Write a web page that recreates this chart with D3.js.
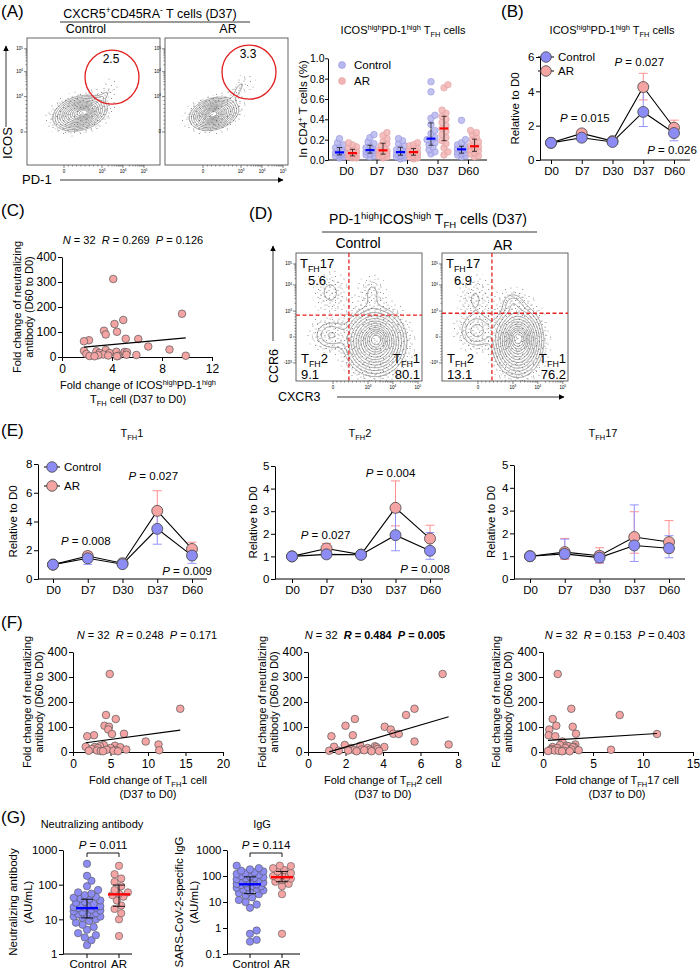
<!DOCTYPE html>
<html>
<head>
<meta charset="utf-8">
<script src="https://cdn.jsdelivr.net/npm/d3@7"></script>
<style>
  body { margin: 0; background: #fff; }
  svg { display: block; font-family: "Liberation Sans", Arial, Helvetica, sans-serif; }
</style>
</head>
<body>
<script>
// ---------- data ----------
const days = ['D0', 'D7', 'D30', 'D37', 'D60'];

// (A) % ICOShigh PD-1high TFH in CD4+ T cells, one array per day
const tfhPctControl = [
  [0.21, 0.17, 0.15, 0.13, 0.12, 0.10, 0.09, 0.08, 0.07, 0.07, 0.06, 0.05, 0.05, 0.04, 0.03, 0.02],
  [0.25, 0.22, 0.18, 0.16, 0.14, 0.12, 0.11, 0.10, 0.095, 0.09, 0.08, 0.07, 0.06, 0.05, 0.04, 0.03],
  [0.21, 0.19, 0.16, 0.14, 0.12, 0.10, 0.09, 0.08, 0.075, 0.07, 0.06, 0.05, 0.04, 0.03, 0.02, 0.01],
  [0.77, 0.67, 0.44, 0.41, 0.35, 0.29, 0.26, 0.22, 0.20, 0.19, 0.17, 0.15, 0.13, 0.10, 0.08, 0.06],
  [0.39, 0.20, 0.17, 0.15, 0.13, 0.12, 0.11, 0.11, 0.10, 0.09, 0.08, 0.07, 0.06, 0.05, 0.04, 0.03]
];
const tfhPctAR = [
  [0.17, 0.15, 0.13, 0.12, 0.10, 0.09, 0.08, 0.07, 0.065, 0.06, 0.05, 0.04, 0.04, 0.03, 0.02, 0.02],
  [0.27, 0.24, 0.21, 0.18, 0.16, 0.14, 0.12, 0.10, 0.09, 0.085, 0.07, 0.06, 0.05, 0.04, 0.03, 0.02],
  [0.17, 0.15, 0.14, 0.12, 0.11, 0.10, 0.09, 0.08, 0.075, 0.07, 0.06, 0.05, 0.04, 0.03, 0.02, 0.01],
  [0.74, 0.71, 0.49, 0.46, 0.43, 0.40, 0.37, 0.34, 0.31, 0.28, 0.25, 0.22, 0.19, 0.16, 0.12, 0.08, 0.05],
  [0.29, 0.27, 0.25, 0.22, 0.20, 0.18, 0.16, 0.14, 0.13, 0.12, 0.10, 0.09, 0.07, 0.06, 0.04, 0.03]
];

// (B) ICOShigh PD-1high TFH relative to D0 (value, [low, high])
const icosRelControl = [1.0, 1.3, 1.05, 2.8, 1.57];
const icosErrControl = [[1, 1], [1.12, 1.48], [0.98, 1.12], [1.95, 4.45], [1.12, 1.75]];
const icosRelAR = [1.0, 1.55, 1.1, 4.25, 1.88];
const icosErrAR = [[1, 1], [1.35, 1.75], [1.0, 1.2], [3.5, 5.05], [1.5, 2.32]];

// (E) TFH subsets relative to D0
const tfh1Control = [1.0, 1.44, 1.03, 3.49, 1.63];
const tfh1ErrControl = [[1, 1], [1.02, 1.7], [0.97, 1.12], [2.42, 4.55], [1.09, 2.05]];
const tfh1AR = [1.0, 1.6, 1.1, 4.74, 2.09];
const tfh1ErrAR = [[1, 1], [1.35, 1.88], [1.0, 1.22], [3.3, 6.14], [1.6, 2.56]];
const tfh2Control = [1.0, 1.09, 1.07, 1.94, 1.25];
const tfh2ErrControl = [[1, 1], [0.98, 1.22], [0.98, 1.15], [1.25, 2.94], [0.87, 2.06]];
const tfh2AR = [1.0, 1.35, 1.08, 3.15, 1.79];
const tfh2ErrAR = [[1, 1], [1.15, 1.57], [1.0, 1.17], [2.35, 4.34], [1.2, 2.38]];
const tfh17Control = [1.0, 1.1, 0.94, 1.47, 1.35];
const tfh17ErrControl = [[1, 1], [0.9, 1.75], [0.72, 1.2], [0.77, 3.25], [0.93, 1.9]];
const tfh17AR = [1.0, 1.18, 1.02, 1.84, 1.62];
const tfh17ErrAR = [[1, 1], [0.86, 1.78], [0.69, 1.37], [1.13, 2.95], [1.15, 2.56]];

// (C)/(F) fold change of neutralizing antibody (D60 to D0), 32 subjects
const neutFold = [312, 173, 148, 132, 105, 101, 90, 73, 72, 67, 63, 42, 30, 28, 25, 23,
                  21, 20, 19, 16, 16, 12, 10, 9, 8, 7, 6, 5, 5, 4, 3, 3];
const icosFold = [4.1, 9.6, 4.9, 4.2, 3.36, 4.4, 3.5, 5.1, 6.1, 2.16, 1.76, 6.9, 8.6, 3.5, 1.76, 2.75,
                  4.35, 5.0, 5.2, 3.0, 3.8, 1.95, 3.3, 5.15, 5.95, 2.9, 3.7, 4.5, 9.9, 2.2, 2.6, 4.4];
const tfh1Fold = [4.9, 14.3, 4.4, 5.7, 4.2, 4.8, 4.7, 6.8, 5.2, 2.8, 1.9, 9.7, 11.4, 4.1, 5.6, 3.6,
                  1.7, 2.9, 6.3, 5.0, 3.3, 2.5, 7.1, 4.5, 5.7, 11.5, 3.2, 2.1, 5.4, 3.7, 6.0, 4.0];
const tfh2Fold = [7.18, 5.68, 5.23, 2.5, 2.0, 4.09, 4.41, 4.55, 4.84, 2.39, 1.25, 5.68, 7.5, 1.96, 2.79, 3.57,
                  1.39, 4.07, 3.66, 3.18, 2.29, 3.71, 2.86, 3.3, 2.46, 3.0, 2.14, 1.13, 1.64, 3.79, 2.59, 3.39];
const tfh17Fold = [1.47, 2.83, 7.67, 0.97, 1.33, 2.97, 0.63, 3.3, 11.4, 0.57, 1.23, 1.93, 3.23, 1.7, 2.37, 2.57,
                   3.1, 0.97, 2.97, 2.23, 1.43, 0.83, 2.83, 6.8, 0.73, 3.57, 1.17, 1.57, 2.07, 0.5, 1.9, 2.67];

// (G) antibody titres, AU/mL
const neutControl = [400, 180, 130, 90, 70, 60, 55, 50, 45, 42, 40, 38, 35, 32, 30, 28, 26, 25, 24, 22, 22, 21,
                     22.5, 19, 18, 17, 16, 15, 14, 14, 13, 12, 12, 11, 10, 9, 8, 7, 6, 5, 4, 3.5, 3, 2.5, 1.8];
const neutAR = [350, 200, 150, 120, 90, 70, 60, 55, 50, 45, 35, 25, 20, 15, 10, 3.3];
const iggControl = [250, 200, 180, 160, 150, 140, 130, 120, 110, 100, 95, 90, 85, 80, 75, 70, 65, 60, 55, 52, 50,
                    48, 45, 42, 40, 38, 35, 32, 30, 28, 25, 22, 20, 18, 15, 12, 10, 8, 6, 0.8, 0.6, 0.35, 0.3];
const iggAR = [250, 240, 200, 170, 150, 130, 110, 100, 90, 85, 80, 70, 60, 50, 40, 20, 0.6];

// flow cytometry populations (display units of the biexponential axes)
const popsA_Control = [
  { cx: 0.8, cy: 0.9, sx: 0.55, sy: 0.32, a: 15, w: 1 },
  { cx: 1.05, cy: 0.95, sx: 0.25, sy: 0.15, a: 15, w: 0.5 },
  { cx: 1.95, cy: 1.7, sx: 0.35, sy: 0.12, a: 40, w: 0.05 },
  { cx: 2.4, cy: 2.3, sx: 0.45, sy: 0.35, a: 0, w: 0.008 },
  { cx: 0.9, cy: 1.0, sx: 0.95, sy: 0.65, a: 15, w: 0.008 }
];
const popsA_AR = [
  { cx: 0.55, cy: 0.87, sx: 0.5, sy: 0.3, a: 15, w: 1 },
  { cx: 0.5, cy: 0.85, sx: 0.25, sy: 0.15, a: 15, w: 0.5 },
  { cx: 1.75, cy: 2.0, sx: 0.35, sy: 0.12, a: 60, w: 0.06 },
  { cx: 2.2, cy: 2.4, sx: 0.45, sy: 0.35, a: 0, w: 0.01 },
  { cx: 0.7, cy: 1.0, sx: 0.95, sy: 0.65, a: 15, w: 0.008 }
];
const popsD_Control = [
  { cx: 1.98, cy: -0.27, sx: 0.6, sy: 0.76, a: 0, w: 1 },
  { cx: 2.05, cy: -0.1, sx: 0.28, sy: 0.35, a: 0, w: 0.5 },
  { cx: 1.85, cy: 2.4, sx: 0.3, sy: 0.55, a: 0, w: 0.05 },
  { cx: -0.1, cy: 0.1, sx: 0.45, sy: 0.45, a: 0, w: 0.12 },
  { cx: -0.13, cy: 2.45, sx: 0.38, sy: 0.55, a: 0, w: 0.055 },
  { cx: 1.0, cy: 1.5, sx: 1.2, sy: 1.2, a: 0, w: 0.006 }
];
const popsD_AR = [
  { cx: 1.88, cy: -0.22, sx: 0.49, sy: 0.8, a: 0, w: 1 },
  { cx: 1.9, cy: -0.05, sx: 0.25, sy: 0.35, a: 0, w: 0.5 },
  { cx: 1.65, cy: 1.85, sx: 0.3, sy: 0.35, a: 0, w: 0.08 },
  { cx: -0.05, cy: 0.33, sx: 0.45, sy: 0.5, a: 0, w: 0.14 },
  { cx: -0.14, cy: 2.1, sx: 0.4, sy: 0.7, a: 0, w: 0.045 },
  { cx: 0.9, cy: 1.4, sx: 1.2, sy: 1.2, a: 0, w: 0.006 }
];
const speckLevels = [0.004, 0.012];
const flowLevels = [0.03, 0.05, 0.08, 0.12, 0.17, 0.23, 0.3, 0.38, 0.47, 0.56, 0.66, 0.77, 0.88];

// ---------- style ----------
const ctlCol = '#8c8cf4', arCol = '#f5a4a4';
const ctlDot = '#b7b7ef', arDot = '#f3b4b4';
const ctlErr = '#9494ff', arErr = '#ff8f8f';

const svg = d3.select('body').append('svg').attr('width', 700).attr('height', 972);
const defs = svg.append('defs');
defs.append('marker').attr('id', 'arrow').attr('viewBox', '0 0 10 10')
  .attr('refX', 9).attr('refY', 5).attr('markerWidth', 7).attr('markerHeight', 7)
  .attr('orient', 'auto').append('path').attr('d', 'M0,0L10,5L0,10z').attr('fill', '#000');
// speckle texture for sparse events outside the contours
[[17, 13, [[1, 2], [7, 1], [12.5, 3.5], [4, 6], [9.5, 7.5], [15, 9], [2, 10.5], [6.5, 12], [12, 11.5]]],
 [9, 8, [[1, 1], [5, 2.5], [8, 5], [2.5, 4.5], [6, 7]]]].forEach(([w, h, pts], k) => {
  const p = defs.append('pattern').attr('id', 'speck' + (k + 1)).attr('width', w).attr('height', h)
    .attr('patternUnits', 'userSpaceOnUse');
  pts.forEach(([cx, cy]) => p.append('circle').attr('cx', cx).attr('cy', cy).attr('r', 0.5).attr('fill', '#6f6f6f'));
});

// text with sup/sub/italic/bold runs
function T(g, x, y, parts, o = {}) {
  const fs = o.size || 11;
  const t = g.append('text').attr('font-size', fs).attr('fill', '#000')
    .attr('text-anchor', o.anchor || 'start');
  if (o.rotate) t.attr('transform', `translate(${x},${y}) rotate(-90)`);
  else t.attr('x', x).attr('y', y);
  if (o.weight) t.attr('font-weight', o.weight);
  let shift = 0;
  parts.forEach(p => {
    if (typeof p === 'string') p = { t: p };
    const target = p.s === 'sup' ? -0.38 * fs : p.s === 'sub' ? 0.28 * fs : 0;
    const ts = t.append('tspan').attr('dy', target - shift).text(p.t);
    shift = target;
    if (p.s) ts.attr('font-size', fs * 0.68);
    if (p.i) ts.attr('font-style', 'italic');
    if (p.b) ts.attr('font-weight', 'bold');
  });
  return t;
}
const P = v => [{ t: 'P', i: true }, ' = ' + v];
const TFH = suffix => ['T', { t: 'FH', s: 'sub' }, suffix];

function styleAxis(sel, fs) {
  sel.attr('font-family', null).attr('font-size', null);
  sel.select('.domain').attr('stroke', '#000').attr('stroke-width', 1);
  sel.selectAll('.tick line').attr('stroke', '#000').attr('stroke-width', 1);
  sel.selectAll('.tick text').attr('fill', '#000').attr('font-size', fs || 11.5);
}

function swarm(values, y, cx, r, maxW, gap) {
  const pts = values.map(v => ({ v, y: y(v) })).sort((a, b) => b.y - a.y);
  const placed = [];
  const step = r * 0.6;
  const kMax = 2 * Math.ceil(maxW / step);
  pts.forEach(p => {
    let best = 0, bestD = -1;
    for (let k = 0; k <= kMax; k++) {
      const dx = (k % 2 ? 1 : -1) * Math.ceil(k / 2) * step;
      if (Math.abs(dx) > maxW) continue;
      const d = placed.length ? d3.min(placed, q => Math.hypot(q.dx - dx, q.y - p.y)) : Infinity;
      if (d >= gap) { best = dx; break; }
      if (d > bestD) { bestD = d; best = dx; }
    }
    p.dx = best;
    placed.push(p);
  });
  return pts.map(p => ({ v: p.v, x: cx + p.dx, y: p.y }));
}

// panel letters
[['(A)', 1, 17], ['(B)', 501, 17], ['(C)', 1, 216], ['(D)', 249, 219],
 ['(E)', 1, 436], ['(F)', 1, 628], ['(G)', 1, 823]].forEach(([t, x, y]) => T(svg, x, y, [t], { size: 17 }));

// ---------- flow plots ----------
function density(pops, ux, uy) {
  let s = 0;
  pops.forEach(p => {
    const a = p.a * Math.PI / 180;
    const dx = ux - p.cx, dy = uy - p.cy;
    const xr = dx * Math.cos(a) + dy * Math.sin(a);
    const yr = -dx * Math.sin(a) + dy * Math.cos(a);
    s += p.w * Math.exp(-0.5 * (xr * xr / (p.sx * p.sx) + yr * yr / (p.sy * p.sy)));
  });
  return s;
}
function flowMinors(ticks) {
  const out = [];
  for (let i = 0; i < ticks.length - 1; i++) {
    const a = ticks[i], b = ticks[i + 1];
    const lin = a.l[0] === '0' || b.l[0] === '0';
    for (let k = 2; k <= 9; k++) out.push(a.u + (b.u - a.u) * (lin ? (k - 1) / 9 : Math.log10(k)));
  }
  return out;
}
let clipN = 0;
function flowPlot(o) {
  const g = svg.append('g');
  const [bx0, by0, bx1, by1] = o.box;
  const x = d3.scaleLinear().domain(o.xDom).range([bx0, bx1]);
  const y = d3.scaleLinear().domain(o.yDom).range([by1, by0]);
  const n = Math.round((bx1 - bx0) / 1.1), m = Math.round((by1 - by0) / 1.1);
  const cw = (bx1 - bx0) / n, ch = (by1 - by0) / m;
  const vals = new Array(n * m);
  for (let j = 0; j < m; j++)
    for (let i = 0; i < n; i++)
      vals[j * n + i] = density(o.pops, x.invert(bx0 + (i + 0.5) * cw), y.invert(by0 + (j + 0.5) * ch));
  const mx = d3.max(vals);
  const path = d3.geoPath(d3.geoTransform({
    point(px, py) { this.stream.point(bx0 + px * cw, by0 + py * ch); }
  }));
  const id = 'fclip' + (clipN++);
  defs.append('clipPath').attr('id', id).append('rect')
    .attr('x', bx0).attr('y', by0).attr('width', bx1 - bx0).attr('height', by1 - by0);
  const cg = g.append('g').attr('clip-path', `url(#${id})`);
  d3.contours().size([n, m]).thresholds(speckLevels.map(l => l * mx))(vals).forEach((c, k) => {
    cg.append('path').attr('d', path(c)).attr('fill', `url(#speck${k + 1})`).attr('stroke', 'none');
  });
  d3.contours().size([n, m]).thresholds(flowLevels.map(l => l * mx))(vals).forEach(c => {
    cg.append('path').attr('d', path(c)).attr('fill', 'none').attr('stroke', '#5e5e5e').attr('stroke-width', 0.55);
  });
  g.append('rect').attr('x', bx0).attr('y', by0).attr('width', bx1 - bx0).attr('height', by1 - by0)
    .attr('fill', 'none').attr('stroke', '#555').attr('stroke-width', 0.9);
  // ticks
  const sup = l => l.includes('10') ? [l.replace(/\d$/, ''), { t: l.slice(-1), s: 'sup' }] : [l];
  o.yTicks.forEach(t => {
    g.append('line').attr('x1', bx0 - 3).attr('x2', bx0).attr('y1', y(t.u)).attr('y2', y(t.u)).attr('stroke', '#333').attr('stroke-width', 0.6);
    T(g, bx0 - 4, y(t.u) + 1.5, sup(t.l), { size: 4.5, anchor: 'end' });
  });
  flowMinors(o.yTicks).forEach(u => g.append('line').attr('x1', bx0 - 1.6).attr('x2', bx0)
    .attr('y1', y(u)).attr('y2', y(u)).attr('stroke', '#333').attr('stroke-width', 0.5));
  o.xTicks.forEach(t => {
    g.append('line').attr('x1', x(t.u)).attr('x2', x(t.u)).attr('y1', by1).attr('y2', by1 + 3).attr('stroke', '#333').attr('stroke-width', 0.6);
    T(g, x(t.u), by1 + 8, sup(t.l), { size: 4.5, anchor: 'middle' });
  });
  flowMinors(o.xTicks).forEach(u => g.append('line').attr('x1', x(u)).attr('x2', x(u))
    .attr('y1', by1).attr('y2', by1 + 1.6).attr('stroke', '#333').attr('stroke-width', 0.5));
  return { g, x, y };
}
const arrowLine = (x1, y1, x2, y2) => svg.append('line').attr('x1', x1).attr('y1', y1).attr('x2', x2).attr('y2', y2)
  .attr('stroke', '#000').attr('stroke-width', 0.8).attr('marker-end', 'url(#arrow)');

// (A) flow
const ticksAX = [{ u: 0, l: '0' }, { u: 1.9, l: '103' }, { u: 2.95, l: '104' }, { u: 4, l: '105' }];
const ticksAY = [{ u: 0, l: '0' }, { u: 1.7, l: '103' }, { u: 2.9, l: '104' }, { u: 4, l: '105' }];
T(svg, 150, 18, ['CXCR5', { t: '+', s: 'sup' }, 'CD45RA', { t: '-', s: 'sup' }, ' T cells (D37)'], { size: 12.5, anchor: 'middle' });
svg.append('line').attr('x1', 60).attr('x2', 250).attr('y1', 22).attr('y2', 22).attr('stroke', '#000').attr('stroke-width', 0.8);
T(svg, 86, 33, ['Control'], { size: 12.5, anchor: 'middle' });
T(svg, 228, 33, ['AR'], { size: 12.5, anchor: 'middle' });
[[popsA_Control, [27, 38, 160, 165], [-1.85, 4.8], [2.4, 2.64], '2.5'],
 [popsA_AR, [165, 38, 288, 165], [-1.9, 4.25], [2.3, 2.88], '3.3']].forEach(([pops, box, xDom, gate, pct]) => {
  const f = flowPlot({ box, xDom, yDom: [-1.59, 4.52], pops, xTicks: ticksAX, yTicks: ticksAY });
  f.g.append('circle').attr('cx', f.x(gate[0])).attr('cy', f.y(gate[1])).attr('r', 27)
    .attr('fill', 'none').attr('stroke', '#e02020').attr('stroke-width', 1.3);
  T(f.g, f.x(gate[0]) - 1, f.y(gate[1]) - 14, [pct], { size: 12, anchor: 'middle' });
});
arrowLine(6, 127, 6, 46);
T(svg, 12, 143, ['ICOS'], { size: 13, anchor: 'middle', rotate: true });
T(svg, 22, 184, ['PD-1'], { size: 13 });
arrowLine(60, 180, 283, 180);

// (D) flow
const ticksDX = [{ u: 0, l: '0' }, { u: 1.65, l: '103' }, { u: 2.82, l: '104' }, { u: 4, l: '105' }];
const ticksDY = [{ u: -1.42, l: '-103' }, { u: 0, l: '0' }, { u: 1.42, l: '103' }, { u: 2.85, l: '104' }, { u: 4, l: '105' }];
T(svg, 428, 224, ['PD-1', { t: 'high', s: 'sup' }, 'ICOS', { t: 'high', s: 'sup' }, ' T', { t: 'FH', s: 'sub' }, ' cells (D37)'], { size: 14, anchor: 'middle' });
svg.append('line').attr('x1', 322).attr('x2', 537).attr('y1', 232).attr('y2', 232).attr('stroke', '#000').attr('stroke-width', 0.8);
T(svg, 358, 248, ['Control'], { size: 14, anchor: 'middle' });
T(svg, 503, 250, ['AR'], { size: 14, anchor: 'middle' });
[[popsD_Control, [296, 253, 422, 381], [-1.74, 4.19], [0.75, 1.2], ['5.6', '9.1', '80.1']],
 [popsD_AR, [442, 253, 568, 381], [-1.69, 4.24], [0.66, 1.3], ['6.9', '13.1', '76.2']]].forEach(([pops, box, xDom, gate, pcts]) => {
  const f = flowPlot({ box, xDom, yDom: [-2.41, 4.6], pops, xTicks: ticksDX, yTicks: ticksDY });
  const dash = { stroke: '#e52222', 'stroke-width': 1.3, 'stroke-dasharray': '4,2.5' };
  const vl = f.g.append('line').attr('x1', f.x(gate[0])).attr('x2', f.x(gate[0])).attr('y1', box[1]).attr('y2', box[3]);
  const hl = f.g.append('line').attr('x1', box[0]).attr('x2', box[2]).attr('y1', f.y(gate[1])).attr('y2', f.y(gate[1]));
  Object.entries(dash).forEach(([k, v]) => { vl.attr(k, v); hl.attr(k, v); });
  T(f.g, box[0] + 4, box[1] + 15, TFH('17'), { size: 13 });
  T(f.g, box[0] + 12, box[1] + 32, [pcts[0]], { size: 13 });
  T(f.g, box[0] + 5, box[3] - 18, TFH('2'), { size: 13 });
  T(f.g, box[0] + 5, box[3] - 2, [pcts[1]], { size: 13 });
  T(f.g, box[2] - 2, box[3] - 18, TFH('1'), { size: 13, anchor: 'end' });
  T(f.g, box[2] - 2, box[3] - 2, [pcts[2]], { size: 13, anchor: 'end' });
});
arrowLine(273, 341, 273, 246);
T(svg, 278, 366, ['CCR6'], { size: 12.5, anchor: 'middle', rotate: true });
T(svg, 278, 401, ['CXCR3'], { size: 12.5 });
arrowLine(337, 397, 564, 397);

// ---------- (A) dot plot ----------
(function () {
  const g = svg.append('g');
  const x = d3.scalePoint().domain(days).range([346, 468]);
  const y = d3.scaleLinear().domain([0, 1]).range([160, 58.3]);
  const ya = g.append('g').attr('transform', 'translate(328,0)')
    .call(d3.axisLeft(y).tickValues(d3.range(0, 1.01, 0.2)).tickFormat(d3.format('.1f')).tickSize(3).tickPadding(0.5).tickSizeOuter(0));
  const xa = g.append('g').attr('transform', 'translate(0,160)').call(d3.axisBottom(x).tickSize(4).tickSizeOuter(0));
  xa.select('.domain').remove();
  styleAxis(ya, 10.5); styleAxis(xa);
  g.append('line').attr('x1', 328).attr('x2', 487).attr('y1', 160).attr('y2', 160).attr('stroke', '#000');
  days.forEach((d, i) => {
    [[tfhPctControl[i], -6.5, ctlDot, '#8a8ad8', '#0000ff'], [tfhPctAR[i], 6.5, arDot, '#d99a9a', '#ff0000']]
      .forEach(([vals, off, fill, stroke, med]) => {
        const cx = x(d) + off;
        swarm(vals, y, cx, 3.3, 4, 4.2).forEach(p => g.append('circle').attr('cx', p.x).attr('cy', p.y).attr('r', 3.3)
          .attr('fill', fill).attr('fill-opacity', 0.85).attr('stroke', stroke).attr('stroke-width', 0.5));
        const s = vals.slice().sort(d3.ascending);
        const q1 = d3.quantile(s, 0.25), q2 = d3.quantile(s, 0.5), q3 = d3.quantile(s, 0.75);
        g.append('line').attr('x1', cx).attr('x2', cx).attr('y1', y(q1)).attr('y2', y(q3)).attr('stroke', '#000').attr('stroke-width', 0.7);
        [q1, q3].forEach(q => g.append('line').attr('x1', cx - 2.5).attr('x2', cx + 2.5).attr('y1', y(q)).attr('y2', y(q)).attr('stroke', '#000').attr('stroke-width', 0.7));
        g.append('line').attr('x1', cx - 4.5).attr('x2', cx + 4.5).attr('y1', y(q2)).attr('y2', y(q2)).attr('stroke', med).attr('stroke-width', 2.2);
      });
  });
  T(g, 403, 34, ['ICOS', { t: 'high', s: 'sup' }, 'PD-1', { t: 'high', s: 'sup' }, ' T', { t: 'FH', s: 'sub' }, ' cells'], { size: 11, anchor: 'middle' });
  T(g, 307, 109, ['In CD4', { t: '+', s: 'sup' }, ' T cells (%)'], { size: 11.5, anchor: 'middle', rotate: true });
  [[ctlDot, '#8a8ad8', 'Control', 65], [arDot, '#d99a9a', 'AR', 81]].forEach(([f, s, t, cy]) => {
    g.append('circle').attr('cx', 342).attr('cy', cy).attr('r', 3.5).attr('fill', f).attr('stroke', s).attr('stroke-width', 0.5);
    T(g, 354, cy + 4, [t], { size: 11.5 });
  });
})();

// ---------- line charts (B, E) ----------
function lineChart(o) {
  const g = svg.append('g');
  const x = d3.scalePoint().domain(days).range([o.xFirst, o.xLast]);
  const y = d3.scaleLinear().domain([0, o.yMax]).range([o.yBottom, o.yTop]);
  const ya = g.append('g').attr('transform', `translate(${o.xAxis},0)`)
    .call(d3.axisLeft(y).tickValues(d3.range(0, o.yMax + 0.01, o.yStep)).tickFormat(d3.format('d'))
      .tickSize(4).tickPadding(1.5).tickSizeOuter(0));
  const xa = g.append('g').attr('transform', `translate(0,${o.yBottom})`).call(d3.axisBottom(x).tickSize(4).tickSizeOuter(0));
  xa.select('.domain').remove();
  styleAxis(ya); styleAxis(xa);
  g.append('line').attr('x1', o.xAxis).attr('x2', o.xEnd).attr('y1', o.yBottom).attr('y2', o.yBottom).attr('stroke', '#000');
  const series = [[o.ar, o.arErr, arCol, arErr], [o.ctl, o.ctlErr, ctlCol, ctlErr]];
  series.forEach(([vals, err, col, ec]) => {
    days.forEach((d, i) => {
      if (err[i][1] - err[i][0] < 0.01) return;
      const cx = x(d);
      g.append('line').attr('x1', cx).attr('x2', cx).attr('y1', y(err[i][0])).attr('y2', y(err[i][1])).attr('stroke', ec).attr('stroke-width', 1);
      err[i].forEach(v => g.append('line').attr('x1', cx - 4.5).attr('x2', cx + 4.5).attr('y1', y(v)).attr('y2', y(v)).attr('stroke', ec).attr('stroke-width', 1));
    });
  });
  const line = d3.line().x((v, i) => x(days[i])).y(v => y(v));
  series.forEach(([vals]) => g.append('path').attr('d', line(vals)).attr('fill', 'none').attr('stroke', '#000').attr('stroke-width', 1.1));
  series.forEach(([vals, err, col]) => vals.forEach((v, i) => g.append('circle').attr('cx', x(days[i])).attr('cy', y(v))
    .attr('r', 5.5).attr('fill', col).attr('stroke', '#444').attr('stroke-width', 0.8)));
  (o.pLabels || []).forEach(p => T(g, x(p.d) + p.dx, y(p.v), P(p.t), { size: 11.5, anchor: 'middle' }));
  T(g, o.titleX, o.titleY, o.title, { size: 11, anchor: 'middle' });
  T(g, o.ylabX, (o.yTop + o.yBottom) / 2, ['Relative to D0'], { size: 11.5, anchor: 'middle', rotate: true });
  if (o.legend) {
    const [lx, ly] = o.legend;
    [[ctlCol, 'Control', 0], [arCol, 'AR', 1]].forEach(([c, t, k]) => {
      const cy = ly + k * o.legendGap;
      g.append('line').attr('x1', lx - 8).attr('x2', lx + 8).attr('y1', cy).attr('y2', cy).attr('stroke', '#000');
      g.append('circle').attr('cx', lx).attr('cy', cy).attr('r', 5.3).attr('fill', c).attr('stroke', '#444').attr('stroke-width', 0.8);
      T(g, lx + 12, cy + 4, [t], { size: 11.5 });
    });
  }
}
const icosTitle = ['ICOS', { t: 'high', s: 'sup' }, 'PD-1', { t: 'high', s: 'sup' }, ' T', { t: 'FH', s: 'sub' }, ' cells'];
lineChart({ xAxis: 540, xFirst: 551, xLast: 674, xEnd: 690, yBottom: 160, yTop: 57, yMax: 6, yStep: 2,
  ctl: icosRelControl, ctlErr: icosErrControl, ar: icosRelAR, arErr: icosErrAR,
  pLabels: [{ d: 'D7', v: 2.2, t: '0.015', dx: 3 }, { d: 'D37', v: 5.5, t: '0.027', dx: -4 }, { d: 'D60', v: 0.35, t: '0.026', dx: -2 }],
  title: icosTitle, titleX: 612, titleY: 34, ylabX: 519, legend: [546, 57], legendGap: 14 });
lineChart({ xAxis: 38, xFirst: 53, xLast: 192, xEnd: 207, yBottom: 579, yTop: 464, yMax: 8, yStep: 2,
  ctl: tfh1Control, ctlErr: tfh1ErrControl, ar: tfh1AR, arErr: tfh1ErrAR,
  pLabels: [{ d: 'D7', v: 2.37, t: '0.008', dx: -2 }, { d: 'D37', v: 6.9, t: '0.027', dx: -4 }, { d: 'D60', v: 0.28, t: '0.009', dx: -5 }],
  title: TFH('1'), titleX: 132, titleY: 437, ylabX: 17, legend: [52, 467], legendGap: 19 });
lineChart({ xAxis: 275, xFirst: 292, xLast: 430, xEnd: 443, yBottom: 579, yTop: 466, yMax: 5, yStep: 1,
  ctl: tfh2Control, ctlErr: tfh2ErrControl, ar: tfh2AR, arErr: tfh2ErrAR,
  pLabels: [{ d: 'D7', v: 1.77, t: '0.027', dx: -1 }, { d: 'D37', v: 4.5, t: '0.004', dx: -5 }, { d: 'D60', v: 0.27, t: '0.008', dx: -5 }],
  title: TFH('2'), titleX: 360, titleY: 437, ylabX: 257 });
lineChart({ xAxis: 514, xFirst: 530, xLast: 669, xEnd: 685, yBottom: 579, yTop: 465, yMax: 5, yStep: 1,
  ctl: tfh17Control, ctlErr: tfh17ErrControl, ar: tfh17AR, arErr: tfh17ErrAR,
  title: TFH('17'), titleX: 603, titleY: 437, ylabX: 495 });

// ---------- scatter plots (C, F) ----------
function scatterPanel(o) {
  const g = svg.append('g');
  const x = d3.scaleLinear().domain([0, o.xMax]).range([o.x0, o.x1]);
  const y = d3.scaleLinear().domain([0, 400]).range([o.y0, o.y0 - 100]);
  const xa = g.append('g').attr('transform', `translate(0,${o.y0})`)
    .call(d3.axisBottom(x).tickValues(d3.range(0, o.xMax + 0.01, o.xStep)).tickSize(4).tickSizeOuter(0));
  const ya = g.append('g').attr('transform', `translate(${o.x0},0)`)
    .call(d3.axisLeft(y).tickValues([0, 100, 200, 300, 400]).tickSize(4).tickPadding(1.5).tickSizeOuter(0));
  styleAxis(xa, 12); styleAxis(ya, 12);
  o.xs.forEach((v, i) => g.append('circle').attr('cx', x(v)).attr('cy', y(neutFold[i])).attr('r', 3.8)
    .attr('fill', arCol).attr('stroke', '#555').attr('stroke-width', 0.7));
  const mxs = d3.mean(o.xs), mys = d3.mean(neutFold);
  const slope = d3.sum(o.xs, (v, i) => (v - mxs) * (neutFold[i] - mys)) / d3.sum(o.xs, v => (v - mxs) ** 2);
  const [lo, hi] = d3.extent(o.xs);
  g.append('line').attr('x1', x(lo)).attr('x2', x(hi))
    .attr('y1', y(mys + slope * (lo - mxs))).attr('y2', y(mys + slope * (hi - mxs)))
    .attr('stroke', '#000').attr('stroke-width', 1.1);
  T(g, o.statX, o.y0 - 113, o.stat, { size: 11, anchor: 'middle' });
  o.xlab.forEach((l, k) => T(g, o.xlabX, o.y0 + 32 + k * 14, l, { size: 11, anchor: 'middle' }));
  T(g, o.ylabX, o.y0 - 50, ['Fold change of neutralizing'], { size: 11, anchor: 'middle', rotate: true });
  T(g, o.ylabX + 12, o.y0 - 50, ['antibody (D60 to D0)'], { size: 11, anchor: 'middle', rotate: true });
}
const stat = (r, p, bold) => [{ t: 'N', i: true }, ' = 32\u00a0\u00a0', { t: 'R', i: true, b: bold }, { t: ' = ' + r + '\u00a0\u00a0', b: bold },
  { t: 'P', i: true, b: bold }, { t: ' = ' + p, b: bold }];
scatterPanel({ x0: 62, x1: 212, y0: 357, xMax: 12, xStep: 4, xs: icosFold, stat: stat('0.269', '0.126'), statX: 133,
  xlab: [['Fold change of ICOS', { t: 'high', s: 'sup' }, 'PD-1', { t: 'high', s: 'sup' }], TFH(' cell (D37 to D0)')], xlabX: 138, ylabX: 21 });
scatterPanel({ x0: 73, x1: 223, y0: 752, xMax: 20, xStep: 5, xs: tfh1Fold, stat: stat('0.248', '0.171'), statX: 147,
  xlab: [['Fold change of ', ...TFH('1 cell')], ['(D37 to D0)']], xlabX: 148, ylabX: 31 });
scatterPanel({ x0: 308, x1: 458, y0: 752, xMax: 8, xStep: 2, xs: tfh2Fold, stat: stat('0.484', '0.005', true), statX: 375,
  xlab: [['Fold change of ', ...TFH('2 cell')], ['(D37 to D0)']], xlabX: 383, ylabX: 266 });
scatterPanel({ x0: 543, x1: 693, y0: 752, xMax: 15, xStep: 5, xs: tfh17Fold, stat: stat('0.153', '0.403'), statX: 615,
  xlab: [['Fold change of ', ...TFH('17 cell')], ['(D37 to D0)']], xlabX: 617, ylabX: 500 });

// ---------- (G) ----------
function titrePanel(o) {
  const g = svg.append('g');
  const y = d3.scaleLog().domain(o.yDom).range([954, 850]);
  const ya = g.append('g').attr('transform', `translate(${o.xAxis},0)`)
    .call(d3.axisLeft(y).tickValues(o.yTicks).tickFormat(d3.format('~g')).tickSize(4).tickPadding(1.5).tickSizeOuter(0));
  styleAxis(ya);
  g.append('line').attr('x1', o.xAxis).attr('x2', o.xEnd).attr('y1', 954).attr('y2', 954).attr('stroke', '#000');
  [[o.ctl, o.xc, ctlCol, '#0000ff', 15, 'Control'], [o.ar, o.xa, arCol, '#ff0000', 10, 'AR']].forEach(([vals, cx, col, med, w, lab]) => {
    g.append('line').attr('x1', cx).attr('x2', cx).attr('y1', 954).attr('y2', 958).attr('stroke', '#000');
    swarm(vals, y, cx, 3.7, w, 6.4).forEach(p => g.append('circle').attr('cx', p.x).attr('cy', p.y).attr('r', 3.7)
      .attr('fill', col).attr('stroke', '#555').attr('stroke-width', 0.6));
    const s = vals.slice().sort(d3.ascending);
    const q1 = d3.quantile(s, 0.25), q2 = d3.quantile(s, 0.5), q3 = d3.quantile(s, 0.75);
    g.append('line').attr('x1', cx).attr('x2', cx).attr('y1', y(q1)).attr('y2', y(q3)).attr('stroke', '#000').attr('stroke-width', 0.9);
    [q1, q3].forEach(q => g.append('line').attr('x1', cx - 6).attr('x2', cx + 6).attr('y1', y(q)).attr('y2', y(q)).attr('stroke', '#000').attr('stroke-width', 0.9));
    g.append('line').attr('x1', cx - 11).attr('x2', cx + 11).attr('y1', y(q2)).attr('y2', y(q2)).attr('stroke', med).attr('stroke-width', 2.4);
    T(g, cx + (lab === 'AR' ? 0 : 1), 968, [lab], { size: 11.5, anchor: 'middle' });
  });
  g.append('path').attr('d', `M${o.xc},857V853H${o.xa}V857`).attr('fill', 'none').attr('stroke', '#000').attr('stroke-width', 0.9);
  T(g, (o.xc + o.xa) / 2, 849, P(o.p), { size: 11.5, anchor: 'middle' });
  T(g, o.titleX, 828, [o.title], { size: 11, anchor: 'middle' });
  o.ylab.forEach((l, k) => T(g, o.ylabX + k * 14.5, 902, [l], { size: 11.5, anchor: 'middle', rotate: true }));
}
titrePanel({ xAxis: 63, xEnd: 132, xc: 87, xa: 119, yDom: [1, 1000], yTicks: [1, 10, 100, 1000],
  ctl: neutControl, ar: neutAR, p: '0.011', title: 'Neutralizing antibody', titleX: 92,
  ylab: ['Neutralizing antibody', '(AU/mL)'], ylabX: 17 });
titrePanel({ xAxis: 227, xEnd: 300, xc: 250, xa: 282, yDom: [0.1, 1000], yTicks: [0.1, 1, 10, 100, 1000],
  ctl: iggControl, ar: iggAR, p: '0.114', title: 'IgG', titleX: 262,
  ylab: ['SARS-CoV-2-specific IgG', '(AU/mL)'], ylabX: 183 });
</script>
</body>
</html>
